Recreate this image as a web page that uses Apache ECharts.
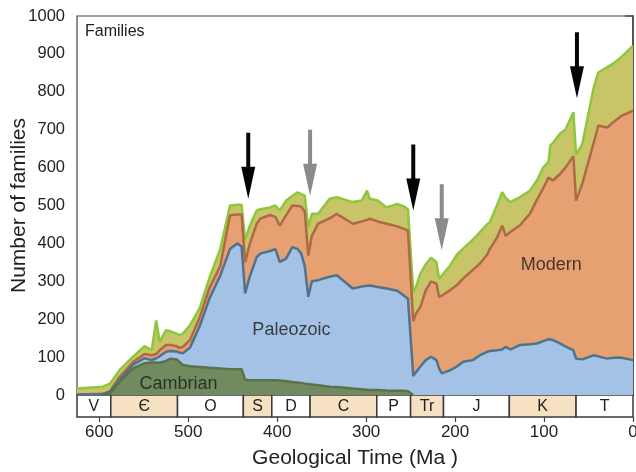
<!DOCTYPE html>
<html><head><meta charset="utf-8">
<script src="https://cdn.jsdelivr.net/npm/echarts@6/dist/echarts.min.js"></script>
<style>html,body{margin:0;padding:0;background:#fff}#c{width:636px;height:472px}</style>
</head><body><div id="c"></div>
<script>
// Geological age (Ma) of each sample
const ages = [625,596,588,577,562,549,541,536,532,525,520,513,510,506,498,487,476,464,453,445,440,436,431,423,419,408,402,397,390,383,377,373,369,365,361,354,341,333,315,305,299,296,287,277,265,258,253,247,244,239,233,227,221,218,215,206,198,191,180,172,164,161,153,147,143,138,127,116,108,101,95,93,90,82,76,67,64,57,44,39,29,22,14,0];
// Families per evolutionary fauna
const cambrian = [null,0,3,35,70,84,86,86,85,90,96,94,88,79,76,74,72,70,68,68,68,40,39,39,39,39,39,38,36,34,33,32,30,29,28,26,22,21,17,15,14,13,13,12,11,11,10,0,null,null,null,null,null,null,null,null,null,null,null,null,null,null,null,null,null,null,null,null,null,null,null,null,null,null,null,null,null,null,null,null,null,null,null,null];
const paleozoic = [1,2,5,5,10,13,6,11,17,24,20,21,24,31,49,108,183,245,317,332,324,228,272,325,334,341,346,313,324,356,352,341,310,230,272,277,290,295,264,271,274,276,272,269,264,252,244,50,60,75,92,101,92,70,57,65,75,88,92,105,114,116,118,120,127,120,132,134,136,142,147,149,145,136,128,118,96,94,105,102,96,98,99,92];
const modern = [0,1,2,8,7,11,13,11,16,18,16,14,12,17,20,23,28,25,89,76,84,82,86,88,92,95,85,96,114,110,114,124,145,109,120,149,154,162,171,172,174,176,173,171,170,176,180,145,155,157,184,199,202,189,205,211,215,219,238,242,256,269,297,327,293,310,316,344,379,403,427,421,421,447,472,512,417,463,562,609,610,622,636,658];
const other = [16,19,20,18,14,21,13,89,22,39,36,33,34,35,39,25,27,45,26,26,26,60,48,35,25,20,30,40,39,25,36,33,41,75,58,26,52,44,57,55,77,53,55,43,59,59,56,77,70,88,69,62,57,48,53,64,80,79,80,83,80,71,85,88,100,79,74,61,51,55,41,88,99,107,100,116,121,105,146,140,159,155,155,171];

const periodNames = ['V','Є','O','S','D','C','P','Tr','J','K','T'];
const periodStart = [625,587,512,438,406,363,288,250,213,139,64];
const periodEnd   = [587,512,438,406,363,288,250,213,139,64,0];
const periodShaded = [false,true,false,true,false,true,false,true,false,true,false];

// Extinction arrows: age and value of the arrow tip
const arrowAges = [432.5,363,247,215,63];
const arrowTips = [518,526,487,382,783];
const arrowDark = [true,false,true,false,true];

const faunaNames = ['Cambrian','Paleozoic','Modern'];
const faunaLabelAges = [511,384,92];
const faunaLabelValues = [29,171,342];

const FONT = "'Liberation Sans', Arial, Helvetica, sans-serif";

// cumulative boundaries (stack built here, then drawn as areas from the axis)
const cumC = cambrian.map(v => v);
const cumP = paleozoic.map((v,i) => (cambrian[i] || 0) + v);
const cumM = modern.map((v,i) => cumP[i] + v);
const cumT = other.map((v,i) => cumM[i] + v);
const pairs = arr => ages.map((a,i) => [a, arr[i]]);

const layers = [
  {name:'Other', data:cumT, fill:'#c8c569', line:'#8cc83c', z:1},
  {name:'Modern', data:cumM, fill:'#e7a072', line:'#ad6a47', z:2},
  {name:'Paleozoic', data:cumP, fill:'#a4c2e6', line:'#50738c', z:3},
  {name:'Cambrian', data:cumC, fill:'#718a5f', line:'#5b7249', z:4}
];

const series = layers.map(l => ({
  type:'line', name:l.name, xAxisIndex:0, yAxisIndex:0,
  data:pairs(l.data), symbol:'none', z:l.z, connectNulls:false,
  lineStyle:{width:2.5, color:l.line},
  areaStyle:{color:l.fill, opacity:1, origin:'start'}
}));

series[0].markPoint = {
  symbol:'path://M5,0L9,0L9,34L14,34L7,66L0,34L5,34Z',
  symbolSize:[14,66], symbolOffset:[0,'-50%'], symbolKeepAspect:false,
  label:{show:false}, silent:true, z:8,
  data: arrowAges.map((a,i) => ({coord:[a, arrowTips[i]], itemStyle:{color: arrowDark[i] ? '#050505' : '#8b8b8b'}}))
};

series.push({
  type:'scatter', xAxisIndex:0, yAxisIndex:0, symbolSize:0, z:6, silent:true,
  data: faunaNames.map((n,i) => ({name:n, value:[faunaLabelAges[i], faunaLabelValues[i]]})),
  label:{show:true, position:'inside', formatter:p => p.name, fontSize:18, color:'#1a1a1a', fontFamily:FONT}
});

series.push({
  type:'custom', xAxisIndex:1, yAxisIndex:1, silent:true,
  data: periodNames.map((n,i) => [periodStart[i], periodEnd[i]]),
  encode:{x:[0,1]},
  renderItem:(params, api) => {
    const i = params.dataIndex;
    const p1 = api.coord([api.value(0), 1]);
    const p2 = api.coord([api.value(1), 0]);
    const x = Math.min(p1[0], p2[0]), w = Math.abs(p2[0]-p1[0]);
    return {type:'group', children:[
      {type:'rect', shape:{x:x, y:p1[1], width:w, height:p2[1]-p1[1]},
       style:{fill: periodShaded[i] ? '#f7e1c3' : '#ffffff', stroke:'#3a3a3a', lineWidth:1.5}},
      {type:'text', style:{text:periodNames[i], x:x+w/2, y:(p1[1]+p2[1])/2+1, align:'center', verticalAlign:'middle',
        fontSize:16, fill:'#222', fontFamily:FONT}}
    ]};
  }
});

const chart = echarts.init(document.getElementById('c'), null, {renderer:'canvas'});
chart.setOption({
  animation:false,
  backgroundColor:'#fff',
  textStyle:{fontFamily:FONT},
  title:{text:'Families', left:85, top:24, padding:0, textStyle:{fontSize:16, fontWeight:'normal', color:'#222', fontFamily:FONT}},
  grid:[
    {left:77, top:16, width:556, height:379, show:true, borderColor:'#444', borderWidth:1.2, backgroundColor:'transparent', containLabel:false, outerBoundsMode:'none'},
    {left:77, top:395, width:556, height:22, containLabel:false, outerBoundsMode:'none'}
  ],
  xAxis:[
    {type:'value', gridIndex:0, inverse:true, min:0, max:625, interval:100,
     axisLine:{show:true, onZero:false, lineStyle:{color:'#222', width:1.5}}, axisTick:{show:false}, axisLabel:{show:false}, splitLine:{show:false}},
    {type:'value', gridIndex:1, inverse:true, min:0, max:625, interval:100,
     axisLine:{show:false}, axisTick:{show:true, inside:false, length:5, lineStyle:{color:'#444', width:1.2}},
     axisLabel:{fontSize:17, color:'#222', margin:7, fontFamily:FONT, formatter:v => String(v)}, splitLine:{show:false},
     name:'Geological Time (Ma )', nameLocation:'middle', nameGap:31, nameMoveOverlap:false,
     nameTextStyle:{fontSize:21, color:'#222', fontFamily:FONT}}
  ],
  yAxis:[
    {type:'value', gridIndex:0, min:0, max:1000, interval:100,
     axisLine:{show:true, lineStyle:{color:'#555', width:2}}, axisTick:{show:true, length:8, lineStyle:{color:'#555', width:1.5}},
     axisLabel:{fontSize:16.5, color:'#222', margin:12, fontFamily:FONT, formatter:v => String(v)}, splitLine:{show:false},
     name:'Number of families', nameLocation:'middle', nameGap:47, nameMoveOverlap:false,
     nameTextStyle:{fontSize:21, color:'#222', fontFamily:FONT}},
    {type:'value', gridIndex:1, min:0, max:1, show:false}
  ],
  series:series
});
</script></body></html>
